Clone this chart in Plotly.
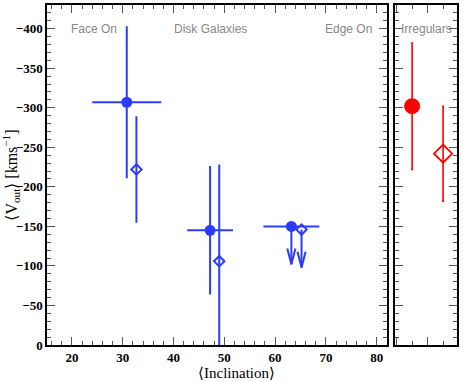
import plotly.graph_objects as go

# disk galaxies (blue): filled = mean, open = median
disk_incl = [30.8, 47.2, 63.2]
disk_incl_err = [6.8, 4.5, 5.5]
disk_v = [-307, -145, -150]
disk_v_err = [95, 80, 0]
disk_med_incl = [32.7, 49.0, 65.2]
disk_med_v = [-222, -106, -146]
disk_med_err = [66, 121, 0]
upper_limit = [False, False, True]   # last bin only has upper limits

# irregulars (red)
irr_x = [1, 3]
irr_v = [-302, -242]
irr_err = [80, 60]

y_ticks = [0, -50, -100, -150, -200, -250, -300, -350, -400]
region_labels = ["Face On", "Disk Galaxies", "Edge On"]
region_pos = [24.3, 47.2, 74.5]

BLUE = "#2b3cff"
RED = "#ff0000"

fig = go.Figure()

# normal points
idx = [i for i in range(3) if not upper_limit[i]]
fig.add_trace(go.Scatter(
    x=[disk_incl[i] for i in idx], y=[disk_v[i] for i in idx], mode="markers",
    marker=dict(symbol="circle", size=11, color=BLUE),
    error_y=dict(type="data", array=[disk_v_err[i] for i in idx], color=BLUE, thickness=2, width=1),
    error_x=dict(type="data", array=[disk_incl_err[i] for i in idx], color=BLUE, thickness=2, width=0),
    showlegend=False))
fig.add_trace(go.Scatter(
    x=[disk_med_incl[i] for i in idx], y=[disk_med_v[i] for i in idx], mode="markers",
    marker=dict(symbol="diamond-open", size=8, color=BLUE, line=dict(width=2, color=BLUE)),
    error_y=dict(type="data", array=[disk_med_err[i] for i in idx], color=BLUE, thickness=2, width=1),
    showlegend=False))

# upper limits as arrows
lim = [i for i in range(3) if upper_limit[i]]
for xs, vs in [(disk_incl, disk_v), (disk_med_incl, disk_med_v)]:
    for i in lim:
        x0, v0 = xs[i], vs[i]
        tip = v0 + 48
        fig.add_trace(go.Scatter(
            x=[x0, x0, None, x0 - 0.8, x0, x0 + 0.8],
            y=[v0, tip, None, tip - 20, tip, tip - 20],
            mode="lines", line=dict(color=BLUE, width=2), showlegend=False, hoverinfo="skip"))
fig.add_trace(go.Scatter(
    x=[disk_incl[i] for i in lim], y=[disk_v[i] for i in lim], mode="markers",
    marker=dict(symbol="circle", size=11, color=BLUE),
    error_x=dict(type="data", array=[disk_incl_err[i] for i in lim], color=BLUE, thickness=2, width=0),
    showlegend=False))
fig.add_trace(go.Scatter(
    x=[disk_med_incl[i] for i in lim], y=[disk_med_v[i] for i in lim], mode="markers",
    marker=dict(symbol="diamond-open", size=8, color=BLUE, line=dict(width=2, color=BLUE)),
    showlegend=False))

# irregulars
fig.add_trace(go.Scatter(
    x=irr_x[:1], y=irr_v[:1], mode="markers", xaxis="x2", yaxis="y2",
    marker=dict(symbol="circle", size=16, color=RED),
    error_y=dict(type="data", array=irr_err[:1], color=RED, thickness=1.6, width=1),
    showlegend=False))
fig.add_trace(go.Scatter(
    x=irr_x[1:], y=irr_v[1:], mode="markers", xaxis="x2", yaxis="y2",
    marker=dict(symbol="diamond-open", size=14, color=RED, line=dict(width=1.8, color=RED)),
    error_y=dict(type="data", array=irr_err[1:], color=RED, thickness=1.6, width=1),
    showlegend=False))

tickfont = dict(family="Liberation Serif", size=13, color="black", weight="bold")
common = dict(showline=True, linecolor="black", linewidth=1.5, mirror="ticks",
              ticks="inside", tickcolor="#555", tickwidth=1, showgrid=False, zeroline=False,
              automargin=False)

fig.update_layout(
    width=463, height=382,
    margin=dict(l=47, r=6, t=5, b=37),
    plot_bgcolor="white", paper_bgcolor="white",
    xaxis=dict(domain=[0, 0.829], range=[15.1, 82], dtick=10, tick0=0, ticklen=8,
               minor=dict(dtick=2, ticklen=4, ticks="inside", tickcolor="#555"),
               tickfont=tickfont, **common),
    yaxis=dict(range=[0, -430], tickvals=y_ticks, ticklen=8,
               minor=dict(dtick=10, ticklen=4, ticks="inside", tickcolor="#555"),
               tickfont=tickfont,
               title=dict(text="⟨V<sub>out</sub>⟩ [kms<sup>−1</sup>]",
                          font=dict(family="Liberation Serif", size=16, color="black"), standoff=5),
               **common),
    xaxis2=dict(domain=[0.849, 1], range=[-0.1, 3.9], tickvals=[0, 2], ticklen=8,
                minor=dict(tickvals=[1, 3], ticklen=4, ticks="inside", tickcolor="#555"),
                showticklabels=False, anchor="y2", **common),
    yaxis2=dict(range=[0, -430], tickvals=y_ticks, ticklen=8, anchor="x2",
                minor=dict(dtick=10, ticklen=4, ticks="inside", tickcolor="#555"),
                showticklabels=False, **common),
)

for txt, xp in zip(region_labels, region_pos):
    fig.add_annotation(x=xp, y=-400, xref="x", yref="y", text=txt, showarrow=False,
                       font=dict(family="Liberation Sans", size=12, color="#888"))
fig.add_annotation(x=1.9, y=-400, xref="x2", yref="y2", text="Irregulars", showarrow=False,
                   font=dict(family="Liberation Sans", size=12, color="#888"))
fig.add_annotation(x=0.463, y=-0.083, xref="paper", yref="paper", text="⟨Inclination⟩",
                   showarrow=False, yanchor="middle",
                   font=dict(family="Liberation Serif", size=15, color="black"))

fig.write_html("out.html", config={"displayModeBar": False},
               post_script="document.body.style.margin='0';")
